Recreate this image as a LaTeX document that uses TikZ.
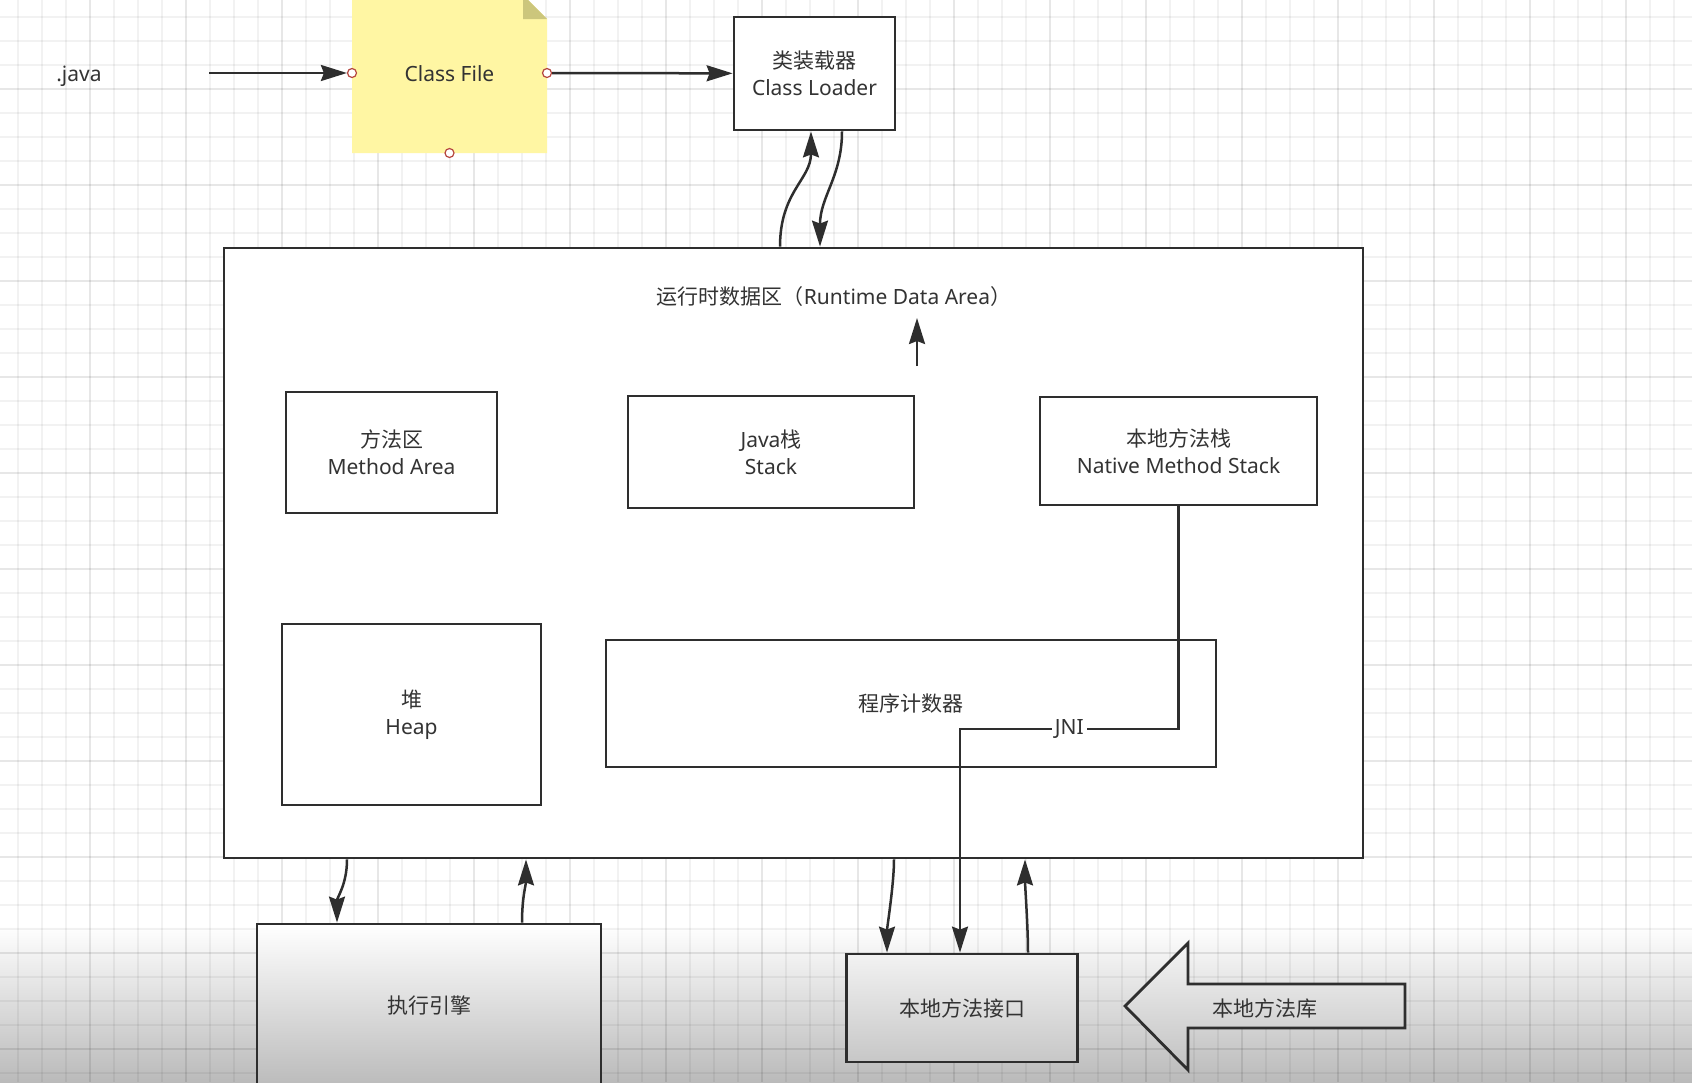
\documentclass[tikz,border=0pt]{standalone}
\usepackage{fontspec}
\setmainfont{Noto Sans}
\newfontfamily\cjk{Noto Sans CJK SC}
\usetikzlibrary{arrows.meta,calc}

\definecolor{ln}{HTML}{2E2E2E}
\definecolor{tx}{HTML}{333333}
\definecolor{notey}{HTML}{FFF6A3}
\definecolor{foldc}{HTML}{CCC67C}
\definecolor{portc}{HTML}{B5463F}

\begin{document}
\begin{tikzpicture}[x=1pt,y=-1pt,
  every node/.style={font=\fontsize{21}{27}\selectfont, text=tx, align=center},
  box/.style={draw=ln, line width=2.8pt, fill=white, inner sep=0pt},
  conn/.style={draw=ln, line width=2.5pt, -{Stealth[length=26pt,width=16pt,inset=3pt]}},
  portn/.style={circle, draw=portc, fill=white, line width=1.2pt, minimum size=9pt, inner sep=0pt},
  gridmin/.style={draw=black, opacity=0.05, line width=1.5pt},
  gridmaj/.style={draw=black, opacity=0.045, line width=1.5pt}
]
\useasboundingbox (0,0) rectangle (1692,1082);
\fill[white] (0,0) rectangle (1692,1082);
\shade[top color=white, bottom color=black!27] (0,925) rectangle (1692,1082);

% grid
\foreach \x in {18,42,...,1692} \draw[gridmin] (\x,0) -- (\x,1082);
\foreach \y in {17,41,...,1082} \draw[gridmin] (0,\y) -- (1692,\y);
\foreach \x in {90,186,...,1692} \draw[gridmaj] (\x,0) -- (\x,1082);
\foreach \y in {89,185,...,1082} \draw[gridmaj] (0,\y) -- (1692,\y);

% .java and class file note
\node (java) at (79,76) {.java};
\coordinate (jstart) at (209,73);
\fill[notey] (352,-5) -- (523,-5) -- (547,19) -- (547,153) -- (352,153) -- cycle;
\fill[foldc] (523,-5) -- (523,19) -- (547,19) -- cycle;
\node[minimum width=195pt, minimum height=158pt, inner sep=0pt] (classfile) at (449.5,74) {Class File};

% class loader
\node[box, minimum width=161pt, minimum height=113pt] (loader) at (814.5,73.5) {{\cjk 类装载器}\\Class Loader};

% ports on note
\node[portn] (pw) at (352,73) {};
\node[portn] (pe) at (547,73) {};
\node[portn] (ps) at (449.5,153) {};

\draw[conn] (jstart) -- (pw);
\draw[conn] (pe) -- (loader);

% runtime data area
\node[box, minimum width=1139pt, minimum height=610pt] (rt) at (793.5,553) {};
\node (rttitle) at (834,297) {{\cjk 运行时数据区（}Runtime Data Area{\cjk ）}};

\draw[conn] ([xshift=-13.5pt]rt.north) .. controls +(0,-55) and +(0,48) .. ([xshift=-3.5pt]loader.south);
\draw[conn] ([xshift=27.5pt]loader.south) .. controls +(0,45) and +(0,-50) .. ([xshift=26.5pt]rt.north);

\coordinate (ua) at (917,366);
\coordinate (ub) at (917,318);
\draw[conn] (ua) -- (ub);

\node[box, minimum width=211pt, minimum height=121pt] (ma) at (391.5,452.5) {{\cjk 方法区}\\Method Area};
\node[box, minimum width=286pt, minimum height=112pt] (js) at (771,452) {Java{\cjk 栈}\\Stack};
\node[box, minimum width=277pt, minimum height=108pt] (ns) at (1178.5,451) {{\cjk 本地方法栈}\\Native Method Stack};
\node[box, minimum width=259pt, minimum height=181pt] (hp) at (411.5,714.5) {{\cjk 堆}\\Heap};
\node[box, minimum width=610pt, minimum height=127pt] (pc) at (911,703.5) {{\cjk 程序计数器}};

% bottom boxes
\node[box, minimum width=344pt, minimum height=164pt, top color=white, bottom color=black!27] (ex) at (429,1006) {{\cjk 执行引擎}};
\node[box, minimum width=231pt, minimum height=108pt, top color=black!5, bottom color=black!22] (nif) at (962,1008) {{\cjk 本地方法接口}};

% native library arrow
\path[draw=ln, line width=2.8pt, top color=black!4, bottom color=black!24]
  (1125,1006) -- (1188,943) -- (1188,984) -- (1405,984) -- (1405,1028) -- (1188,1028) -- (1188,1070) -- cycle;
\node (lib) at (1265,1008) {{\cjk 本地方法库}};

% JNI
\coordinate (jy) at (0,729);
\draw[conn] (ns.south) -- (ns.south |- jy) -| node[pos=0.25, fill=white, inner xsep=3pt, inner ysep=0pt] (jni) {JNI} ([xshift=-2pt]nif.north);

% execution engine arrows
\draw[conn] ([xshift=-446.5pt]rt.south) .. controls +(0,25) and +(0,-25) .. ([xshift=-92pt]ex.north);
\draw[conn] ([xshift=93pt]ex.north) .. controls +(0,-25) and +(0,25) .. ([xshift=-267.5pt]rt.south);

% native interface arrows
\draw[conn] ([xshift=100.5pt]rt.south) .. controls +(0,25) and +(0,-25) .. ([xshift=-75pt]nif.north);
\draw[conn] ([xshift=66pt]nif.north) .. controls +(0,-25) and +(0,25) .. ([xshift=231.5pt]rt.south);
\end{tikzpicture}
\end{document}
